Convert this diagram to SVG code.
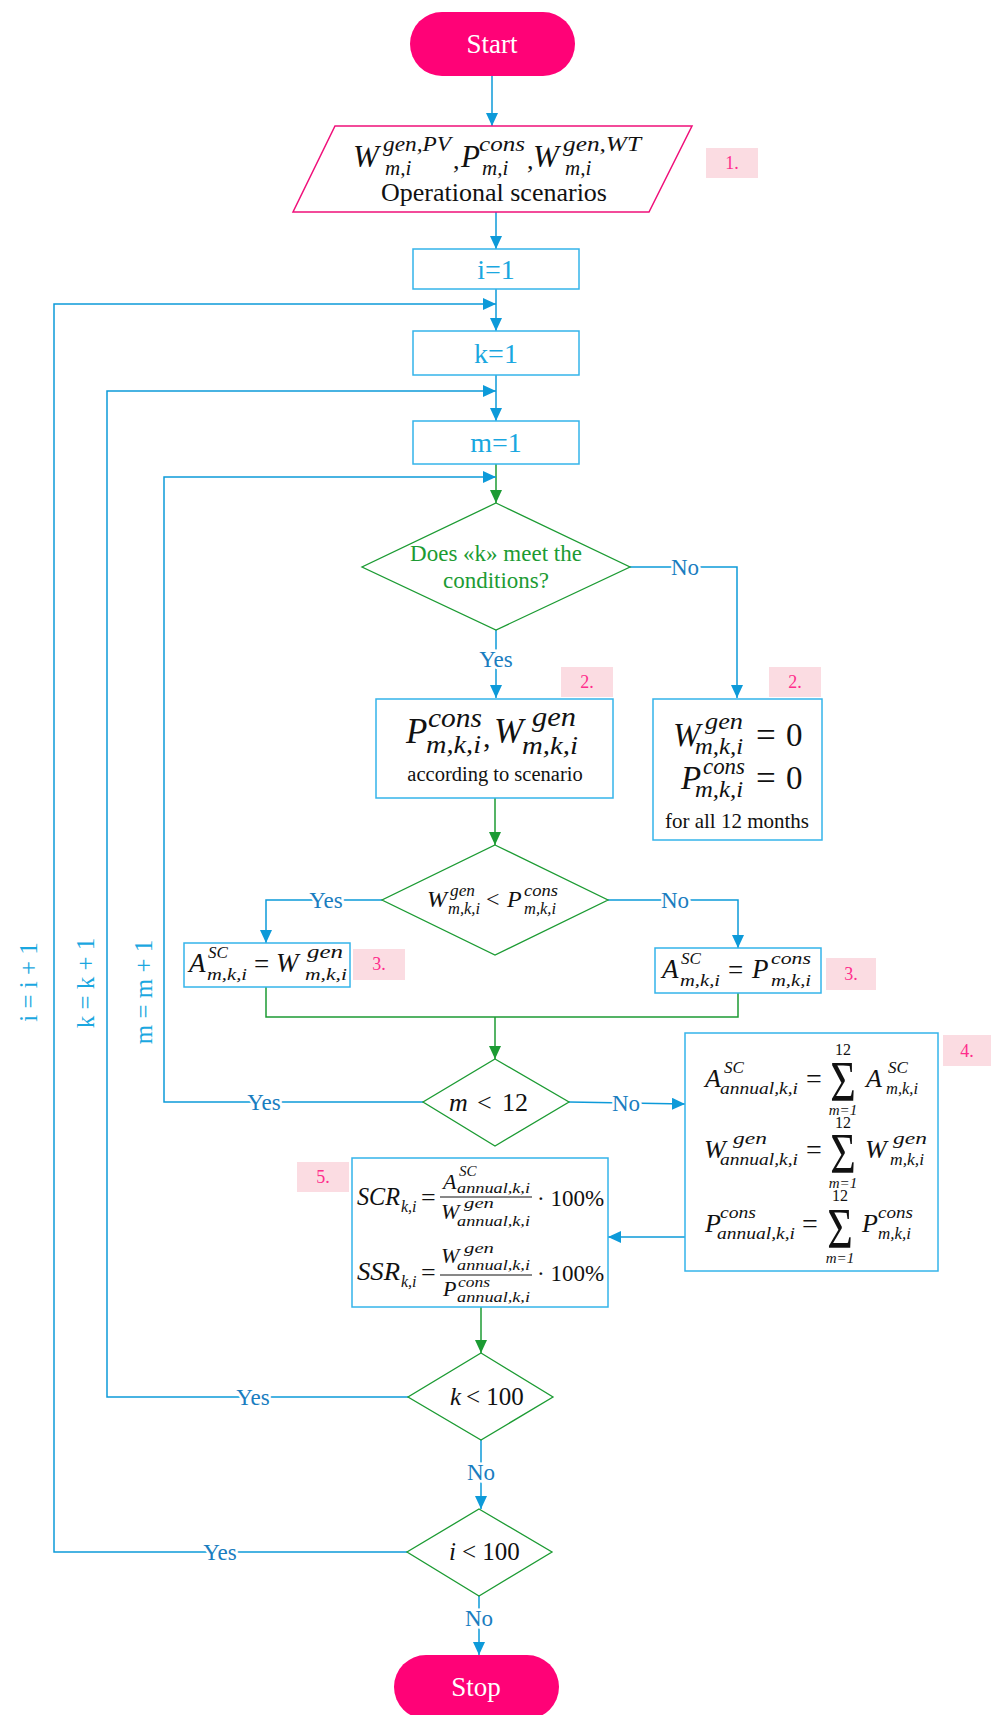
<svg xmlns="http://www.w3.org/2000/svg" width="992" height="1715" viewBox="0 0 992 1715">
<defs>
<style>
.bg{fill:#fff}
.pill{fill:#FF0277}
.pilltxt{font-family:"Liberation Serif",serif;font-size:27px;fill:#fff;text-anchor:middle}
.box{fill:#fff;stroke:#35B4EA;stroke-width:1.5}
.para{fill:#fff;stroke:#F0107A;stroke-width:1.5}
.dia{fill:#fff;stroke:#1C9B33;stroke-width:1.3}
.btxt{font-family:"Liberation Serif",serif;font-size:28px;fill:#1AA7E0;text-anchor:middle}
.gtxt{font-family:"Liberation Serif",serif;font-size:23px;fill:#1C9B33;text-anchor:middle}
.plain{font-family:"Liberation Serif",serif;fill:#111}
.mi{font-family:"Liberation Serif",serif;font-style:italic;fill:#111}
.mn{font-family:"Liberation Serif",serif;fill:#111}
.lbl{fill:#FBDCE2}
.lbltxt{font-family:"Liberation Serif",serif;font-size:18px;fill:#FF2D8C;text-anchor:middle}
.cb{fill:none;stroke:#0D9AD9;stroke-width:1.5}
.cg{fill:none;stroke:#1C9B33;stroke-width:1.5}
.yn{font-family:"Liberation Serif",serif;font-size:23px;fill:#1A7DBF;text-anchor:middle;stroke:#fff;stroke-width:5px;paint-order:stroke}
.rot{font-family:"Liberation Serif",serif;font-size:25px;fill:#1AA7E0;text-anchor:middle}
</style>
<marker id="ab" markerUnits="userSpaceOnUse" markerWidth="13" markerHeight="12" refX="13" refY="6" orient="auto"><path d="M0,0 L13,6 L0,12 z" fill="#0D9AD9"/></marker>
<marker id="ag" markerUnits="userSpaceOnUse" markerWidth="13" markerHeight="12" refX="13" refY="6" orient="auto"><path d="M0,0 L13,6 L0,12 z" fill="#1C9B33"/></marker>
</defs>
<rect class="bg" x="0" y="0" width="992" height="1715"/>

<g id="connectors">
<path class="cb" d="M492,76 V126" marker-end="url(#ab)"/>
<path class="cb" d="M496,212 V249" marker-end="url(#ab)"/>
<path class="cb" d="M496,289 V331" marker-end="url(#ab)"/>
<path class="cb" d="M496,375 V421" marker-end="url(#ab)"/>
<path class="cg" d="M496,464 V503" marker-end="url(#ag)"/>
<path class="cb" d="M496,630 V698" marker-end="url(#ab)"/>
<path class="cb" d="M630,567 H737 V698" marker-end="url(#ab)"/>
<path class="cg" d="M495,798 V845" marker-end="url(#ag)"/>
<path class="cb" d="M382,900 H266 V943" marker-end="url(#ab)"/>
<path class="cb" d="M608,900 H738 V948" marker-end="url(#ab)"/>
<path class="cg" d="M266,987 V1017 H738 V993"/>
<path class="cg" d="M495,1017 V1059" marker-end="url(#ag)"/>
<path class="cb" d="M423,1102 H164 V477 H496" marker-end="url(#ab)"/>
<path class="cb" d="M569,1102 L685,1104" marker-end="url(#ab)"/>
<path class="cb" d="M685,1237 H608" marker-end="url(#ab)"/>
<path class="cg" d="M481,1307 V1353" marker-end="url(#ag)"/>
<path class="cb" d="M408,1397 H107 V391 H496" marker-end="url(#ab)"/>
<path class="cb" d="M481,1440 V1509" marker-end="url(#ab)"/>
<path class="cb" d="M407,1552 H54 V304 H496" marker-end="url(#ab)"/>
<path class="cb" d="M479,1596 V1655" marker-end="url(#ab)"/>
<text class="yn" x="496" y="667">Yes</text>
<text class="yn" x="685" y="575">No</text>
<text class="yn" x="326" y="908">Yes</text>
<text class="yn" x="675" y="908">No</text>
<text class="yn" x="264" y="1110">Yes</text>
<text class="yn" x="626" y="1111">No</text>
<text class="yn" x="253" y="1405">Yes</text>
<text class="yn" x="481" y="1480">No</text>
<text class="yn" x="220" y="1560">Yes</text>
<text class="yn" x="479" y="1626">No</text>
<text class="rot" transform="translate(37,982) rotate(-90)">i = i + 1</text>
<text class="rot" transform="translate(94,983) rotate(-90)">k = k + 1</text>
<text class="rot" transform="translate(152,992) rotate(-90)">m = m + 1</text>
</g>

<g id="start">
<rect class="pill" x="410" y="12" width="165" height="64" rx="32"/>
<text class="pilltxt" x="492" y="53">Start</text>
</g>

<g id="input">
<polygon class="para" points="335,126 692,126 649,212 293,212"/>
<text class="mi" x="353" y="167" font-size="31">W</text>
<text class="mi" x="383" y="151" font-size="21" textLength="68" lengthAdjust="spacingAndGlyphs">gen,PV</text>
<text class="mi" x="385" y="175" font-size="21">m,i</text>
<text class="mn" x="453" y="169" font-size="26">,</text>
<text class="mi" x="461" y="167" font-size="31">P</text>
<text class="mi" x="479" y="151" font-size="21" textLength="46" lengthAdjust="spacingAndGlyphs">cons</text>
<text class="mi" x="482" y="175" font-size="21">m,i</text>
<text class="mn" x="527" y="169" font-size="26">,</text>
<text class="mi" x="533" y="167" font-size="31">W</text>
<text class="mi" x="563" y="151" font-size="21" textLength="78" lengthAdjust="spacingAndGlyphs">gen,WT</text>
<text class="mi" x="565" y="175" font-size="21">m,i</text>
<text class="plain" x="494" y="201" font-size="26" text-anchor="middle">Operational scenarios</text>
</g>
<g id="label1"><rect class="lbl" x="706" y="148" width="52" height="30"/><text class="lbltxt" x="732" y="169">1.</text></g>

<g id="i1"><rect class="box" x="413" y="249" width="166" height="40"/><text class="btxt" x="496" y="279">i=1</text></g>
<g id="k1"><rect class="box" x="413" y="331" width="166" height="44"/><text class="btxt" x="496" y="363">k=1</text></g>
<g id="m1"><rect class="box" x="413" y="421" width="166" height="43"/><text class="btxt" x="496" y="452">m=1</text></g>

<g id="cond">
<polygon class="dia" points="496,503 630,567 496,630 362,567"/>
<text class="gtxt" x="496" y="561">Does «k» meet the</text>
<text class="gtxt" x="496" y="588">conditions?</text>
</g>

<g id="scen">
<rect class="box" x="376" y="699" width="237" height="99"/>
<text class="mi" x="406" y="743" font-size="35">P</text>
<text class="mi" x="428" y="727" font-size="27" textLength="54" lengthAdjust="spacingAndGlyphs">cons</text>
<text class="mi" x="426" y="753" font-size="25" textLength="55" lengthAdjust="spacingAndGlyphs">m,k,i</text>
<text class="mn" x="483" y="747" font-size="30">,</text>
<text class="mi" x="494" y="743" font-size="35">W</text>
<text class="mi" x="532" y="726" font-size="27" textLength="44" lengthAdjust="spacingAndGlyphs">gen</text>
<text class="mi" x="522" y="754" font-size="25" textLength="56" lengthAdjust="spacingAndGlyphs">m,k,i</text>
<text class="plain" x="495" y="781" font-size="20.5" text-anchor="middle">according to scenario</text>
</g>
<g id="label2a"><rect class="lbl" x="561" y="667" width="52" height="30"/><text class="lbltxt" x="587" y="688">2.</text></g>

<g id="zero">
<rect class="box" x="653" y="699" width="169" height="141"/>
<text class="mi" x="673" y="746" font-size="33">W</text>
<text class="mi" x="705" y="729" font-size="24" textLength="38" lengthAdjust="spacingAndGlyphs">gen</text>
<text class="mi" x="695" y="754" font-size="23" textLength="48" lengthAdjust="spacingAndGlyphs">m,k,i</text>
<text class="mn" x="756" y="747" font-size="35">=</text>
<text class="mn" x="786" y="746" font-size="33">0</text>
<text class="mi" x="681" y="789" font-size="33">P</text>
<text class="mi" x="703" y="774" font-size="24" textLength="42" lengthAdjust="spacingAndGlyphs">cons</text>
<text class="mi" x="695" y="797" font-size="23" textLength="48" lengthAdjust="spacingAndGlyphs">m,k,i</text>
<text class="mn" x="756" y="790" font-size="35">=</text>
<text class="mn" x="786" y="789" font-size="33">0</text>
<text class="plain" x="737" y="828" font-size="21" text-anchor="middle">for all 12 months</text>
</g>
<g id="label2b"><rect class="lbl" x="769" y="667" width="52" height="30"/><text class="lbltxt" x="795" y="688">2.</text></g>

<g id="cmp">
<polygon class="dia" points="495,845 608,900 495,955 382,900"/>
<text class="mi" x="427" y="907" font-size="24">W</text>
<text class="mi" x="450" y="896" font-size="16" textLength="25" lengthAdjust="spacingAndGlyphs">gen</text>
<text class="mi" x="448" y="914" font-size="16" textLength="32" lengthAdjust="spacingAndGlyphs">m,k,i</text>
<text class="mn" x="486" y="907" font-size="24">&lt;</text>
<text class="mi" x="507" y="907" font-size="24">P</text>
<text class="mi" x="524" y="896" font-size="16" textLength="34" lengthAdjust="spacingAndGlyphs">cons</text>
<text class="mi" x="524" y="914" font-size="16" textLength="32" lengthAdjust="spacingAndGlyphs">m,k,i</text>
</g>

<g id="ascw">
<rect class="box" x="184" y="943" width="166" height="44"/>
<text class="mi" x="189" y="972" font-size="27">A</text>
<text class="mi" x="208" y="958" font-size="17">SC</text>
<text class="mi" x="207" y="980" font-size="17" textLength="40" lengthAdjust="spacingAndGlyphs">m,k,i</text>
<text class="mn" x="254" y="973" font-size="27">=</text>
<text class="mi" x="276" y="972" font-size="27">W</text>
<text class="mi" x="307" y="958" font-size="18" textLength="36" lengthAdjust="spacingAndGlyphs">gen</text>
<text class="mi" x="305" y="980" font-size="17" textLength="42" lengthAdjust="spacingAndGlyphs">m,k,i</text>
</g>
<g id="label3a"><rect class="lbl" x="353" y="949" width="52" height="31"/><text class="lbltxt" x="379" y="970">3.</text></g>

<g id="ascp">
<rect class="box" x="655" y="948" width="166" height="45"/>
<text class="mi" x="662" y="978" font-size="27">A</text>
<text class="mi" x="681" y="964" font-size="17">SC</text>
<text class="mi" x="680" y="986" font-size="17" textLength="40" lengthAdjust="spacingAndGlyphs">m,k,i</text>
<text class="mn" x="728" y="979" font-size="27">=</text>
<text class="mi" x="752" y="978" font-size="27">P</text>
<text class="mi" x="771" y="964" font-size="17" textLength="40" lengthAdjust="spacingAndGlyphs">cons</text>
<text class="mi" x="771" y="986" font-size="17" textLength="40" lengthAdjust="spacingAndGlyphs">m,k,i</text>
</g>
<g id="label3b"><rect class="lbl" x="826" y="958" width="50" height="32"/><text class="lbltxt" x="851" y="980">3.</text></g>

<g id="mlt12">
<polygon class="dia" points="495,1059 569,1102 495,1146 423,1102"/>
<text class="mi" x="449" y="1111" font-size="26">m</text>
<text class="mn" x="477" y="1111" font-size="26">&lt;</text>
<text class="mn" x="502" y="1111" font-size="26">12</text>
</g>

<g id="annual">
<rect class="box" x="685" y="1033" width="253" height="238"/>
<text class="mi" x="705" y="1087" font-size="26">A</text>
<text class="mi" x="724" y="1073" font-size="17">SC</text>
<text class="mi" x="720" y="1094" font-size="17" textLength="78" lengthAdjust="spacingAndGlyphs">annual,k,i</text>
<text class="mn" x="806" y="1088" font-size="28">=</text>
<text class="mn" transform="translate(843,1101) scale(1,1.3)" font-size="44" text-anchor="middle">Σ</text>
<text class="mn" x="843" y="1055" font-size="16" text-anchor="middle">12</text>
<text class="mi" x="843" y="1115" font-size="15" text-anchor="middle">m=1</text>
<text class="mi" x="866" y="1087" font-size="26">A</text>
<text class="mi" x="888" y="1073" font-size="17">SC</text>
<text class="mi" x="886" y="1094" font-size="17" textLength="32" lengthAdjust="spacingAndGlyphs">m,k,i</text>

<text class="mi" x="704" y="1158" font-size="26">W</text>
<text class="mi" x="733" y="1144" font-size="17" textLength="34" lengthAdjust="spacingAndGlyphs">gen</text>
<text class="mi" x="720" y="1165" font-size="17" textLength="78" lengthAdjust="spacingAndGlyphs">annual,k,i</text>
<text class="mn" x="806" y="1159" font-size="28">=</text>
<text class="mn" transform="translate(843,1173) scale(1,1.3)" font-size="44" text-anchor="middle">Σ</text>
<text class="mn" x="843" y="1128" font-size="16" text-anchor="middle">12</text>
<text class="mi" x="843" y="1188" font-size="15" text-anchor="middle">m=1</text>
<text class="mi" x="865" y="1158" font-size="26">W</text>
<text class="mi" x="893" y="1144" font-size="17" textLength="34" lengthAdjust="spacingAndGlyphs">gen</text>
<text class="mi" x="890" y="1165" font-size="17" textLength="34" lengthAdjust="spacingAndGlyphs">m,k,i</text>

<text class="mi" x="705" y="1232" font-size="26">P</text>
<text class="mi" x="720" y="1218" font-size="17" textLength="36" lengthAdjust="spacingAndGlyphs">cons</text>
<text class="mi" x="717" y="1239" font-size="17" textLength="78" lengthAdjust="spacingAndGlyphs">annual,k,i</text>
<text class="mn" x="802" y="1233" font-size="28">=</text>
<text class="mn" transform="translate(840,1248) scale(1,1.3)" font-size="44" text-anchor="middle">Σ</text>
<text class="mn" x="840" y="1201" font-size="16" text-anchor="middle">12</text>
<text class="mi" x="840" y="1263" font-size="15" text-anchor="middle">m=1</text>
<text class="mi" x="862" y="1232" font-size="26">P</text>
<text class="mi" x="878" y="1218" font-size="17" textLength="35" lengthAdjust="spacingAndGlyphs">cons</text>
<text class="mi" x="878" y="1239" font-size="17" textLength="33" lengthAdjust="spacingAndGlyphs">m,k,i</text>
</g>
<g id="label4"><rect class="lbl" x="943" y="1035" width="48" height="31"/><text class="lbltxt" x="967" y="1057">4.</text></g>

<g id="ratios">
<rect class="box" x="352" y="1158" width="256" height="149"/>
<text class="mi" x="357" y="1205" font-size="25" textLength="43" lengthAdjust="spacingAndGlyphs">SCR</text>
<text class="mi" x="401" y="1212" font-size="16">k,i</text>
<text class="mn" x="421" y="1206" font-size="26">=</text>
<line x1="440" y1="1197" x2="532" y2="1197" stroke="#111" stroke-width="1"/>
<text class="mi" x="443" y="1189" font-size="22">A</text>
<text class="mi" x="459" y="1176" font-size="15">SC</text>
<text class="mi" x="457" y="1193" font-size="15" textLength="73" lengthAdjust="spacingAndGlyphs">annual,k,i</text>
<text class="mi" x="441" y="1219" font-size="22">W</text>
<text class="mi" x="464" y="1208" font-size="15" textLength="30" lengthAdjust="spacingAndGlyphs">gen</text>
<text class="mi" x="457" y="1226" font-size="15" textLength="73" lengthAdjust="spacingAndGlyphs">annual,k,i</text>
<text class="mn" x="537" y="1206" font-size="23">· 100%</text>

<text class="mi" x="357" y="1280" font-size="25" textLength="43" lengthAdjust="spacingAndGlyphs">SSR</text>
<text class="mi" x="401" y="1287" font-size="16">k,i</text>
<text class="mn" x="421" y="1281" font-size="26">=</text>
<line x1="440" y1="1275" x2="532" y2="1275" stroke="#111" stroke-width="1"/>
<text class="mi" x="441" y="1263" font-size="22">W</text>
<text class="mi" x="464" y="1253" font-size="15" textLength="30" lengthAdjust="spacingAndGlyphs">gen</text>
<text class="mi" x="457" y="1270" font-size="15" textLength="73" lengthAdjust="spacingAndGlyphs">annual,k,i</text>
<text class="mi" x="443" y="1296" font-size="22">P</text>
<text class="mi" x="458" y="1287" font-size="15" textLength="32" lengthAdjust="spacingAndGlyphs">cons</text>
<text class="mi" x="457" y="1302" font-size="15" textLength="73" lengthAdjust="spacingAndGlyphs">annual,k,i</text>
<text class="mn" x="537" y="1281" font-size="23">· 100%</text>
</g>
<g id="label5"><rect class="lbl" x="297" y="1162" width="52" height="30"/><text class="lbltxt" x="323" y="1183">5.</text></g>

<g id="klt100">
<polygon class="dia" points="481,1353 553,1397 481,1440 408,1397"/>
<text class="mi" x="450" y="1405" font-size="25">k</text>
<text class="mn" x="466" y="1405" font-size="25">&lt; 100</text>
</g>

<g id="ilt100">
<polygon class="dia" points="479,1509 552,1552 479,1596 407,1552"/>
<text class="mi" x="449" y="1560" font-size="25">i</text>
<text class="mn" x="462" y="1560" font-size="25">&lt; 100</text>
</g>

<g id="stop">
<rect class="pill" x="394" y="1655" width="165" height="64" rx="32"/>
<text class="pilltxt" x="476" y="1696">Stop</text>
</g>
</svg>
